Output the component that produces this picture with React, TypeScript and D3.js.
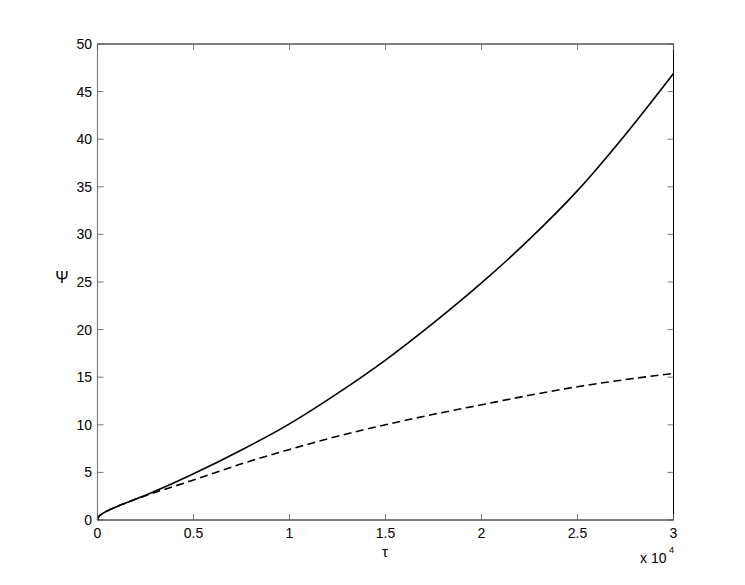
import React from "react";
import * as d3 from "d3";

const tau = [0, 50, 200, 500, 1000, 1500, 2000, 2500, 5000, 7500, 10000, 12500, 15000, 17500, 20000, 22500, 25000, 27500, 30000];
const psiSolid = [0, 0.3, 0.6, 0.95, 1.4, 1.8, 2.2, 2.6, 4.85, 7.35, 10.1, 13.3, 16.8, 20.7, 24.9, 29.5, 34.6, 40.5, 46.9];
const psiDashed = [0, 0.3, 0.6, 0.95, 1.4, 1.8, 2.2, 2.55, 4.2, 5.9, 7.4, 8.8, 10.0, 11.1, 12.1, 13.1, 14.0, 14.75, 15.4];
const xTicks = [0, 5000, 10000, 15000, 20000, 25000, 30000];
const xTickLabels = ["0", "0.5", "1", "1.5", "2", "2.5", "3"];
const yTicks = [0, 5, 10, 15, 20, 25, 30, 35, 40, 45, 50];

export default function App() {
  const W = 745, H = 585;
  const left = 97.5, right = 673.5, top = 44, bottom = 520;
  const x = d3.scaleLinear().domain([0, 30000]).range([left, right]);
  const y = d3.scaleLinear().domain([0, 50]).range([bottom, top]);
  const line = d3.line<number>().x((_, i) => x(tau[i])).y((d) => y(d)).curve(d3.curveMonotoneX);
  const font = "'Liberation Sans', Arial, Helvetica, sans-serif";
  const tl = 6;
  return (
    <svg width={W} height={H} style={{ position: "absolute", left: 0, top: 0, background: "#fff" }}>
      <rect x={0} y={0} width={W} height={H} fill="#fff" />
      <path d={line(psiDashed) || ""} fill="none" stroke="#000" strokeWidth={1.6} strokeDasharray="8,4.5" />
      <path d={line(psiSolid) || ""} fill="none" stroke="#000" strokeWidth={1.6} />
      <line x1={left} x2={right} y1={top} y2={top} stroke="#000" strokeWidth={1} />
      <line x1={left} x2={right} y1={bottom} y2={bottom} stroke="#000" strokeWidth={1} />
      <line x1={right} x2={right} y1={top} y2={bottom} stroke="#000" strokeWidth={1} />
      <line x1={left} x2={left} y1={top} y2={bottom} stroke="#808080" strokeWidth={1.2} />
      {xTicks.map((t, i) => (
        <g key={"x" + i}>
          <line x1={x(t)} x2={x(t)} y1={bottom} y2={bottom - tl} stroke="#555" strokeWidth={0.8} />
          <line x1={x(t)} x2={x(t)} y1={top} y2={top + tl} stroke="#555" strokeWidth={0.8} />
          <text x={x(t)} y={538} textAnchor="middle" fontFamily={font} fontSize={14} fill="#000">{xTickLabels[i]}</text>
        </g>
      ))}
      {yTicks.map((t, i) => (
        <g key={"y" + i}>
          <line x1={left} x2={left + tl} y1={y(t)} y2={y(t)} stroke="#555" strokeWidth={0.8} />
          <line x1={right} x2={right - tl} y1={y(t)} y2={y(t)} stroke="#555" strokeWidth={0.8} />
          <text x={92} y={y(t) + 5} textAnchor="end" fontFamily={font} fontSize={14} fill="#000">{t}</text>
        </g>
      ))}
      <text x={385} y={557} textAnchor="middle" fontFamily={font} fontSize={15} fill="#000">τ</text>
      <text x={62} y={283} textAnchor="middle" fontFamily={font} fontSize={16} fill="#000">Ψ</text>
      <text x={640} y={563} fontFamily={font} fontSize={14} fill="#000">x 10</text>
      <text x={669} y={553} fontFamily={font} fontSize={9} fill="#000">4</text>
    </svg>
  );
}
